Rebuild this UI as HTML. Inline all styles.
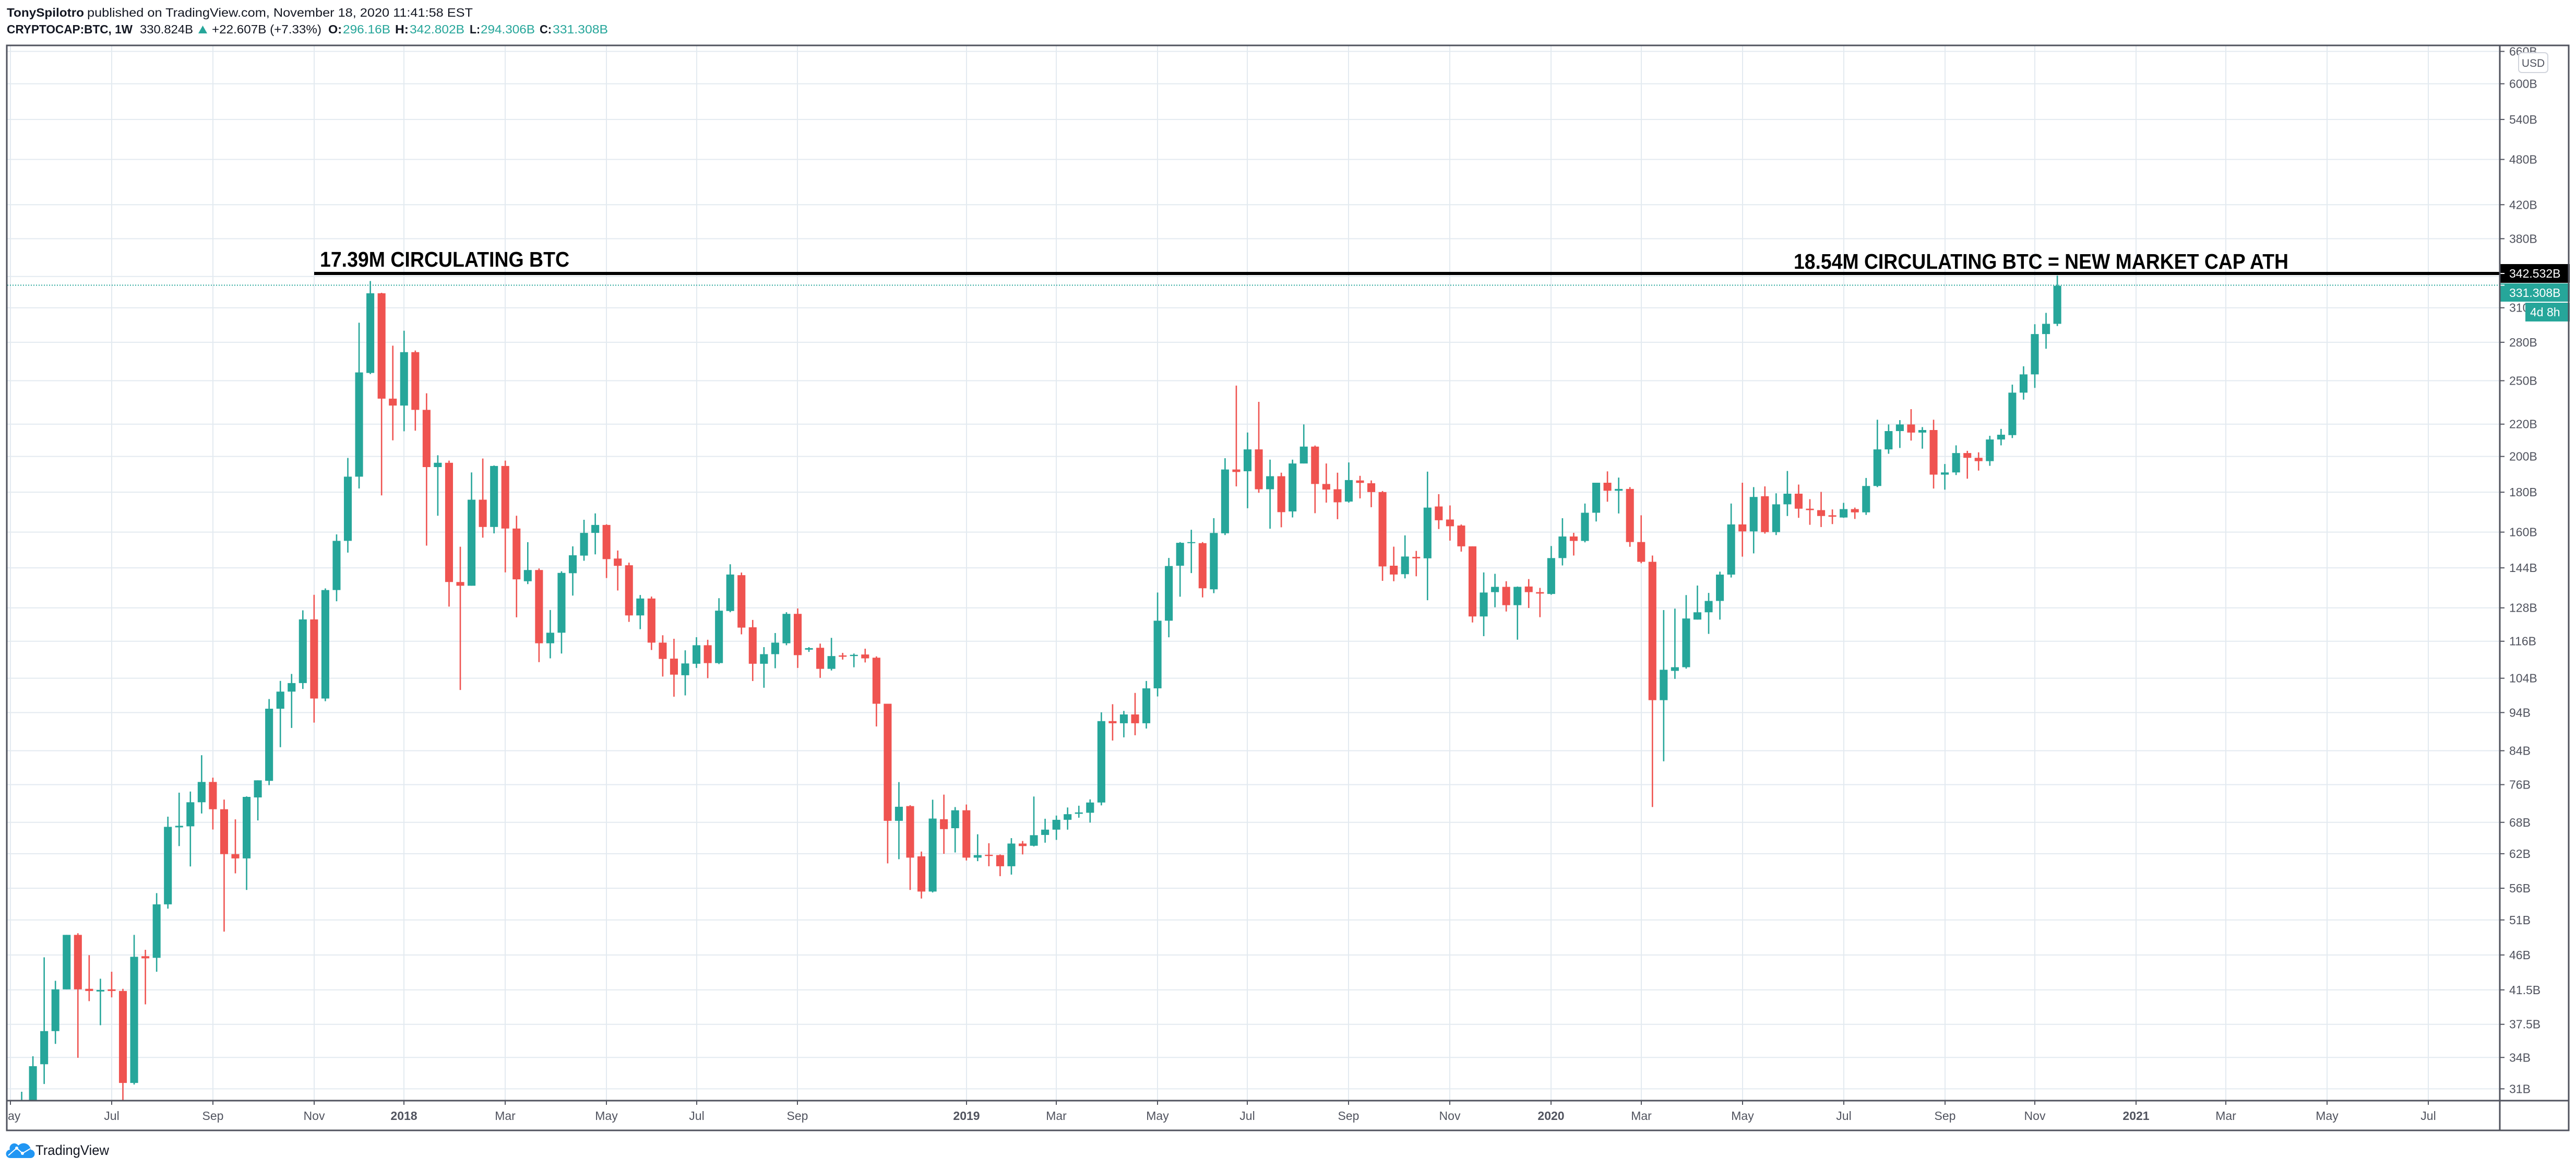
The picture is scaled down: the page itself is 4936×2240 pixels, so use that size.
<!DOCTYPE html>
<html><head><meta charset="utf-8"><style>
html,body{margin:0;padding:0;background:#fff;}
svg{display:block;font-family:"Liberation Sans",Arial,sans-serif;}
</style></head><body>
<svg width="4936" height="2240" viewBox="0 0 4936 2240" xmlns="http://www.w3.org/2000/svg">
<defs><clipPath id="pc"><rect x="14" y="88" width="4776" height="2020"/></clipPath></defs>
<rect width="4936" height="2240" fill="#fff"/>

<!-- header -->
<text x="13" y="32" font-size="23" font-weight="bold" fill="#131722" textLength="148" lengthAdjust="spacingAndGlyphs">TonySpilotro</text>
<text x="167" y="32" font-size="23" fill="#131722" textLength="739" lengthAdjust="spacingAndGlyphs">published on TradingView.com, November 18, 2020 11:41:58 EST</text>
<g font-size="23">
<text x="13" y="64" font-weight="bold" fill="#131722" textLength="241" lengthAdjust="spacingAndGlyphs">CRYPTOCAP:BTC, 1W</text>
<text x="268" y="64" fill="#131722" textLength="102" lengthAdjust="spacingAndGlyphs">330.824B</text>
<polygon points="380,64 397,64 388.5,49" fill="#26a69a"/>
<text x="406" y="64" fill="#131722" textLength="210" lengthAdjust="spacingAndGlyphs">+22.607B (+7.33%)</text>
<text x="629" y="64" font-weight="bold" fill="#131722" textLength="26" lengthAdjust="spacingAndGlyphs">O:</text>
<text x="657" y="64" fill="#26a69a" textLength="91" lengthAdjust="spacingAndGlyphs">296.16B</text>
<text x="757" y="64" font-weight="bold" fill="#131722" textLength="26" lengthAdjust="spacingAndGlyphs">H:</text>
<text x="785" y="64" fill="#26a69a" textLength="105" lengthAdjust="spacingAndGlyphs">342.802B</text>
<text x="900" y="64" font-weight="bold" fill="#131722" textLength="20" lengthAdjust="spacingAndGlyphs">L:</text>
<text x="921" y="64" fill="#26a69a" textLength="104" lengthAdjust="spacingAndGlyphs">294.306B</text>
<text x="1034" y="64" font-weight="bold" fill="#131722" textLength="23" lengthAdjust="spacingAndGlyphs">C:</text>
<text x="1059" y="64" fill="#26a69a" textLength="106" lengthAdjust="spacingAndGlyphs">331.308B</text>
</g>

<!-- grid -->
<path fill="none" stroke="#e3eaf0" stroke-width="2" d="M14 98.5H4790M14 160.5H4790M14 228.9H4790M14 305.5H4790M14 392.3H4790M14 457.4H4790M14 529.7H4790M14 589.7H4790M14 655.9H4790M14 729.5H4790M14 812.7H4790M14 874.6H4790M14 943.1H4790M14 1019.6H4790M14 1088.1H4790M14 1164.7H4790M14 1228.7H4790M14 1299.6H4790M14 1365.4H4790M14 1438.5H4790M14 1503.5H4790M14 1575.8H4790M14 1635.9H4790M14 1702H4790M14 1762.8H4790M14 1829.9H4790M14 1896.8H4790M14 1962.7H4790M14 2026.3H4790M14 2086.4H4790"/>
<path fill="none" stroke="#e3eaf0" stroke-width="2" d="M20 88V2108M214 88V2108M408 88V2108M602 88V2108M774 88V2108M968 88V2108M1162 88V2108M1335 88V2108M1528 88V2108M1852 88V2108M2024 88V2108M2218 88V2108M2390 88V2108M2584 88V2108M2778 88V2108M2972 88V2108M3145 88V2108M3339 88V2108M3533 88V2108M3727 88V2108M3899 88V2108M4093 88V2108M4265 88V2108M4459 88V2108M4653 88V2108"/>

<!-- current price dotted line -->
<line x1="14" y1="546.5" x2="4790" y2="546.5" stroke="#26a69a" stroke-width="2" stroke-dasharray="2 3"/>

<!-- candles -->
<g clip-path="url(#pc)" fill="none">
<g transform="translate(20,0) scale(21.55,1)" stroke="#26a69a">
<path stroke-width="0.12" d="M1 2092V2240M2 2024V2175"/>
<path stroke-width="0.7" d="M1 2226V2165M2 2165V2043"/>
</g>
<g transform="translate(20,499.55) scale(21.55,1.0244)">
<g stroke="#26a69a">
<path stroke-width="0.12" d="M3 1303V1540M4 1347V1465M5 1261V1363M8 1343V1430M11 1261V1541M13 1183V1330M14 1040V1212M15 995V1095M16 993V1133M17 925V1034M21 1002V1177M22 972V1047M23 820V981M24 786V910M25 773V874M26 654V801M28 613V824M29 512V637M30 369V546M31 116V426M32 38V212M35 131V319M38 364V477M41 396V608M43 383V510"/>
<path stroke-width="0.7" d="M3 1503V1441M4 1441V1363M5 1363V1261M8 1367V1364M11 1538V1302M13 1304V1204M14 1204V1059M15 1060V1057M16 1058V1013M17 1013V975M21 1118V1003M22 1004V972M23 973V838M24 838V806M25 806V790M26 790V671M28 819V616M29 616V524M30 524V404M31 404V209M32 210V61M35 271V171M38 386V378M41 608V447M43 498V384"/>
</g>
<g stroke="#ef5350">
<path stroke-width="0.12" d="M6 1258V1491M7 1299V1385M9 1330V1378M10 1362V1600M12 1289V1391M18 967V1064M19 1008V1255M20 1045V1146M27 625V864M33 60V439M34 159V336M36 168V318M37 248V533M39 374V647M40 535V803M42 370V518M44 374V583M45 477V667"/>
<path stroke-width="0.7" d="M6 1261V1363M7 1362V1366M9 1363V1366M10 1366V1538M12 1301V1305M18 975V1026M19 1026V1110M20 1110V1118M27 671V819M33 61V258M34 258V271M36 171V279M37 279V386M39 378V601M40 601V608M42 447V498M44 384V501M45 501V596"/>
</g>
</g>
<g transform="translate(20,820.7) scale(21.55,0.613)">
<g stroke="#26a69a">
<path stroke-width="0.12" d="M46 356V487M48 568V719M49 447V704M50 369V523M51 286V414M52 266V394M56 521V628M60 694V835M61 653V749M63 531V737M64 425V575M67 684V811M68 640V750M69 575V678M71 684V699M73 655V757M75 704V747M79 1106V1347M82 1161V1451M84 1184V1326M86 1269V1353M89 1281V1395M91 1151V1307"/>
<path stroke-width="0.7" d="M46 478V443M48 672V639M49 639V452M50 453V397M51 398V327M52 327V302M56 585V532M60 772V735M61 736V678M63 734V570M64 571V457M67 736V706M68 706V670M69 672V580M71 692V687M73 752V712M75 712V708M79 1227V1183M82 1448V1220M84 1250V1194M86 1342V1334M89 1369V1298M91 1305V1272"/>
</g>
<g stroke="#ef5350">
<path stroke-width="0.12" d="M47 438V731M53 300V468M54 382V507M55 420V605M57 526V693M58 647V776M59 658V839M62 661V781M65 451V644M66 599V790M70 563V749M72 673V780M74 702V723M76 689V732M77 713V932M78 861V1360M80 1178V1443M81 1323V1470M83 1145V1330M85 1176V1351M87 1297V1369M88 1332V1400M90 1290V1332"/>
<path stroke-width="0.7" d="M47 443V672M53 302V409M54 407V430M55 428V585M57 532V670M58 670V721M59 720V770M62 678V734M65 459V623M66 622V736M70 580V709M72 686V752M74 710V714M76 707V719M77 717V861M78 861V1227M80 1181V1342M81 1338V1448M83 1222V1253M85 1194V1342M87 1333V1337M88 1334V1369M90 1298V1306"/>
</g>
</g>
<g transform="translate(20,701.1) scale(21.55,0.6753)">
<g stroke="#26a69a">
<path stroke-width="0.12" d="M92 1285V1353M93 1276V1345M94 1253V1316M95 1248V1282M96 1230V1296M97 983V1247M99 979V1054M101 894V1029M102 643V938M103 545V770M104 500V655M105 465V588M107 432V645M108 262V480M110 189V404M112 266V462M114 266V430M115 166V277M119 274V388M124 481V603M126 300V665M131 586V767M132 590V685M134 626V777"/>
<path stroke-width="0.7" d="M92 1331V1316M93 1316V1288M94 1288V1272M95 1271V1267M96 1268V1239M97 1239V1008M99 1014V989M101 1014V915M102 915V723M103 723V568M104 567V502M105 503V500M107 634V474M108 475V294M110 299V237M112 350V313M114 413V277M115 277V229M119 385V324M124 591V541M126 546V402M131 711V643M132 642V627M134 679V627"/>
</g>
<g stroke="#ef5350">
<path stroke-width="0.12" d="M98 960V1063M100 928V1048M106 500V657M109 56V342M111 102V360M113 303V458M116 226V418M117 277V388M118 303V435M120 312V376M121 325V401M122 355V610M123 513V611M125 525V597M127 364V463M128 396V496M129 450V527M130 512V728M133 611V697M135 605V687M136 630V713"/>
<path stroke-width="0.7" d="M98 1008V1014M100 989V1014M106 503V631M109 294V301M111 237V350M113 313V415M116 229V335M117 335V351M118 350V387M120 325V332M121 333V358M122 358V569M123 567V592M125 542V546M127 399V438M128 436V455M129 453V512M130 512V711M133 627V679M135 626V642M136 642V646"/>
</g>
</g>
<g transform="translate(20,501.3) scale(21.55,0.7014)">
<g stroke="#26a69a">
<path stroke-width="0.12" d="M137 777V910M138 701V830M140 661V767M141 604V710M143 590V688M147 952V1365M148 948V1140M149 911V1112M150 885V978M151 905V1017M152 847V978M153 661V863M155 616V797M157 633V747M158 572V695M163 659V700M165 591V692M166 432V616M167 445V525M168 433V509M170 452V511M172 553V623M173 502V583M176 476V558M177 457V502M178 336V482M179 286V377M180 171V345M181 140V238M182 38V176"/>
<path stroke-width="0.7" d="M137 908V810M138 810V751M140 763V686M141 686V604M143 626V621M147 1198V1115M148 1118V1108M149 1108V975M150 978V958M151 958V927M152 927V855M153 855V718M155 737V643M157 739V663M158 663V634M163 699V676M165 685V613M166 613V513M167 513V463M168 463V445M170 467V460M172 582V576M173 576V523M176 545V486M177 486V473M178 474V358M179 358V308M180 308V198M181 198V170M182 170V66"/>
</g>
<g stroke="#ef5350">
<path stroke-width="0.12" d="M139 741V803M142 573V656M144 616V779M145 693V824M146 803V1490M154 604V806M156 614V743M159 609V700M160 649V719M161 629V725M162 677V717M164 672V703M169 403V489M171 432V620M174 517V593M175 521V571"/>
<path stroke-width="0.7" d="M139 751V763M142 604V626M144 621V766M145 766V820M146 820V1198M154 718V737M156 641V739M159 634V675M160 675V679M161 679V695M162 693V697M164 676V685M169 445V467M171 460V582M174 523V536M175 536V545"/>
</g>
</g>
</g>

<!-- annotations -->
<rect x="602" y="521" width="4188" height="6" fill="#000"/>
<text x="613" y="511" font-size="41" font-weight="bold" fill="#000" textLength="478" lengthAdjust="spacingAndGlyphs">17.39M CIRCULATING BTC</text>
<text x="3437" y="515" font-size="41" font-weight="bold" fill="#000" textLength="948" lengthAdjust="spacingAndGlyphs">18.54M CIRCULATING BTC = NEW MARKET CAP ATH</text>

<!-- price axis labels -->
<path stroke="#50535e" stroke-width="2" d="M4791 98.5h8M4791 160.5h8M4791 228.9h8M4791 305.5h8M4791 392.3h8M4791 457.4h8M4791 589.7h8M4791 655.9h8M4791 729.5h8M4791 812.7h8M4791 874.6h8M4791 943.1h8M4791 1019.6h8M4791 1088.1h8M4791 1164.7h8M4791 1228.7h8M4791 1299.6h8M4791 1365.4h8M4791 1438.5h8M4791 1503.5h8M4791 1575.8h8M4791 1635.9h8M4791 1702h8M4791 1762.8h8M4791 1829.9h8M4791 1896.8h8M4791 1962.7h8M4791 2026.3h8M4791 2086.4h8"/>
<g font-size="23" fill="#50535e">
<text x="4808" y="106.5">660B</text>
<text x="4808" y="168.5">600B</text>
<text x="4808" y="236.9">540B</text>
<text x="4808" y="313.5">480B</text>
<text x="4808" y="400.3">420B</text>
<text x="4808" y="465.4">380B</text>
<text x="4808" y="597.7">310B</text>
<text x="4808" y="663.9">280B</text>
<text x="4808" y="737.5">250B</text>
<text x="4808" y="820.7">220B</text>
<text x="4808" y="882.6">200B</text>
<text x="4808" y="951.1">180B</text>
<text x="4808" y="1027.6">160B</text>
<text x="4808" y="1096.1">144B</text>
<text x="4808" y="1172.7">128B</text>
<text x="4808" y="1236.7">116B</text>
<text x="4808" y="1307.6">104B</text>
<text x="4808" y="1373.4">94B</text>
<text x="4808" y="1446.5">84B</text>
<text x="4808" y="1511.5">76B</text>
<text x="4808" y="1583.8">68B</text>
<text x="4808" y="1643.9">62B</text>
<text x="4808" y="1710">56B</text>
<text x="4808" y="1770.8">51B</text>
<text x="4808" y="1837.9">46B</text>
<text x="4808" y="1904.8">41.5B</text>
<text x="4808" y="1970.7">37.5B</text>
<text x="4808" y="2034.3">34B</text>
<text x="4808" y="2094.4">31B</text>
</g>
<rect x="4826" y="101" width="56" height="38" rx="6" fill="#fff" stroke="#d1d4dc" stroke-width="2"/>
<text x="4854" y="128" font-size="21" fill="#50535e" text-anchor="middle">USD</text>

<rect x="4791" y="506" width="133" height="36" fill="#000"/>
<line x1="4791" y1="524" x2="4799" y2="524" stroke="#fff" stroke-width="2"/>
<text x="4808" y="532" font-size="23" fill="#fff">342.532B</text>
<rect x="4791" y="543" width="133" height="35" fill="#26a69a"/>
<line x1="4791" y1="546.5" x2="4799" y2="546.5" stroke="#fff" stroke-width="2"/>
<text x="4808" y="569" font-size="23" fill="#fff">331.308B</text>
<rect x="4839" y="580" width="85" height="36" fill="#26a69a"/>
<text x="4848" y="606" font-size="23" fill="#fff">4d 8h</text>

<!-- time axis -->
<path stroke="#50535e" stroke-width="2" d="M214 2109v8M408 2109v8M602 2109v8M774 2109v8M968 2109v8M1162 2109v8M1335 2109v8M1528 2109v8M1852 2109v8M2024 2109v8M2218 2109v8M2390 2109v8M2584 2109v8M2778 2109v8M2972 2109v8M3145 2109v8M3339 2109v8M3533 2109v8M3727 2109v8M3899 2109v8M4093 2109v8M4265 2109v8M4459 2109v8M4653 2109v8M20 2109v8"/>
<g font-size="23" fill="#50535e" text-anchor="middle">
<text x="214" y="2146">Jul</text>
<text x="408" y="2146">Sep</text>
<text x="602" y="2146">Nov</text>
<text x="774" y="2146" font-weight="bold">2018</text>
<text x="968" y="2146">Mar</text>
<text x="1162" y="2146">May</text>
<text x="1335" y="2146">Jul</text>
<text x="1528" y="2146">Sep</text>
<text x="1852" y="2146" font-weight="bold">2019</text>
<text x="2024" y="2146">Mar</text>
<text x="2218" y="2146">May</text>
<text x="2390" y="2146">Jul</text>
<text x="2584" y="2146">Sep</text>
<text x="2778" y="2146">Nov</text>
<text x="2972" y="2146" font-weight="bold">2020</text>
<text x="3145" y="2146">Mar</text>
<text x="3339" y="2146">May</text>
<text x="3533" y="2146">Jul</text>
<text x="3727" y="2146">Sep</text>
<text x="3899" y="2146">Nov</text>
<text x="4093" y="2146" font-weight="bold">2021</text>
<text x="4265" y="2146">Mar</text>
<text x="4459" y="2146">May</text>
<text x="4653" y="2146">Jul</text>
</g>
<text x="15" y="2146" font-size="23" fill="#50535e">ay</text>

<!-- frame -->
<rect x="13" y="87" width="4909" height="2079" fill="none" stroke="#50535e" stroke-width="3"/>
<line x1="4790" y1="87" x2="4790" y2="2166" stroke="#50535e" stroke-width="3"/>
<line x1="13" y1="2109" x2="4922" y2="2109" stroke="#50535e" stroke-width="3"/>

<!-- logo -->
<path d="M20 2219H58A8 8 0 0 0 59 2203A14 14 0 0 0 35 2195A9 9 0 0 0 19 2203A8 8 0 0 0 20 2219Z" fill="#2196f3"/>
<polyline points="16,2214 32,2200 43,2210 58,2201" fill="none" stroke="#fff" stroke-width="2"/>
<circle cx="32" cy="2200" r="3" fill="#fff"/>
<circle cx="43" cy="2210" r="3" fill="#fff"/>
<text x="68" y="2213" font-size="27" fill="#131722" textLength="141" lengthAdjust="spacingAndGlyphs">TradingView</text>
</svg>
</body></html>
